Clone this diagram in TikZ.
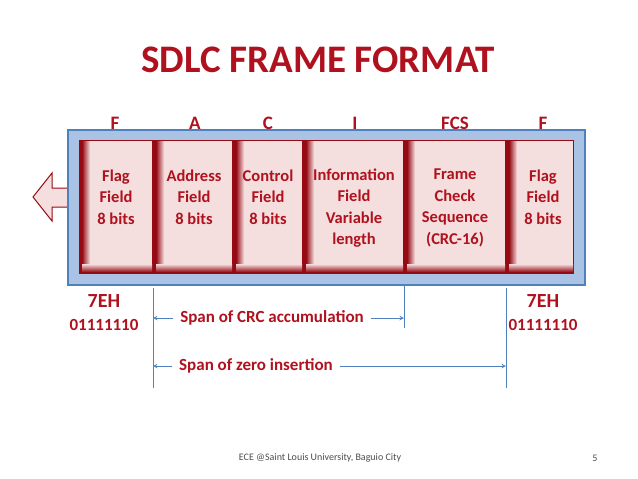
\documentclass[tikz,border=0pt]{standalone}
\usepackage{fontspec}
\setmainfont{Carlito}
\begin{document}
\begin{tikzpicture}[x=1pt,y=-1pt,
  txt/.style={text=rd,font=\bfseries\fontsize{16.5}{21.5}\selectfont,align=center},
  lbl/.style={text=rd,font=\bfseries\fontsize{17}{20}\selectfont},
  blu/.style={draw=bl,line width=1pt},
  arr/.style={blu,->,>=stealth}]
\definecolor{rd}{RGB}{175,18,30}
\definecolor{drd}{RGB}{150,10,20}
\definecolor{pk}{RGB}{244,222,222}
\definecolor{bl}{RGB}{79,129,189}
\definecolor{lbl}{RGB}{170,195,228}
\useasboundingbox (0,0) rectangle (638,479);
\node[text=rd,font=\bfseries\fontsize{39}{44}\selectfont] (title) at (318,60) {SDLC FRAME FORMAT};
% arrow
\draw[drd,fill=pk,line width=1pt] (82,188)--(52,188)--(52,173)--(33,197)--(52,221)--(52,207)--(82,207);
% outer
\draw[bl,fill=lbl,line width=1.2pt] (68,130) rectangle (585,285);
\fill[drd] (79,140) rectangle (574,274);
\foreach \a/\b in {79/153,153/233,233/303,303/404,404/506,506/574}{
  \fill[pk] (\a+3,141) rectangle (\b-1,272);
  \shade[left color=drd,right color=pk] (\a+3,141) rectangle (\a+11,272);
  \shade[top color=pk,bottom color=drd] (\a+3,264) rectangle (\b-1,272);
}
\node[txt] (f1) at (116,197) {Flag\\Field\\8 bits};
\node[txt] (f2) at (194,197) {Address\\Field\\8 bits};
\node[txt] (f3) at (268,197) {Control\\Field\\8 bits};
\node[txt] (f4) at (354,208) {Information\\Field\\Variable\\length};
\node[txt] (f5) at (455,208) {Frame\\Check\\Sequence\\(CRC-16)};
\node[txt] (f6) at (543,197) {Flag\\Field\\8 bits};
\foreach \n/\x/\t in {a/115/F,b/195/A,c/268/C,d/355/I,e/455/FCS,f/543/F}
  \node[lbl,font=\bfseries\fontsize{19}{22}\selectfont] (h\n) at (\x,123) {\t};
\node[lbl,font=\bfseries\fontsize{20}{22}\selectfont] (h1) at (104,301) {7EH};
\node[lbl] (b1) at (104,325) {01111110};
\node[lbl,font=\bfseries\fontsize{20}{22}\selectfont] (h2) at (543,301) {7EH};
\node[lbl] (b2) at (543,325) {01111110};
\coordinate (v1a) at (153,288); \coordinate (v1b) at (153,388);
\coordinate (v2a) at (404,285); \coordinate (v2b) at (404,328);
\coordinate (v3a) at (506,288); \coordinate (v3b) at (506,388);
\draw[blu] (v1a)--(v1b); \draw[blu] (v2a)--(v2b); \draw[blu] (v3a)--(v3b);
\node[lbl,outer xsep=4pt] (crc) at (272,318) {Span of CRC accumulation};
\node[lbl,outer xsep=4pt] (zero) at (256,366) {Span of zero insertion};
\draw[arr] (crc.west)--(153,318);
\draw[arr] (crc.east)--(404,318);
\draw[arr] (zero.west)--(153,366);
\draw[arr] (zero.east)--(506,366);
\node[text=black!70,font=\fontsize{10}{12}\selectfont] (foot) at (320,458) {ECE @Saint Louis University, Baguio City};
\node[text=black!70,font=\fontsize{10}{12}\selectfont] (pg) at (595,458) {5};
\end{tikzpicture}
\end{document}
